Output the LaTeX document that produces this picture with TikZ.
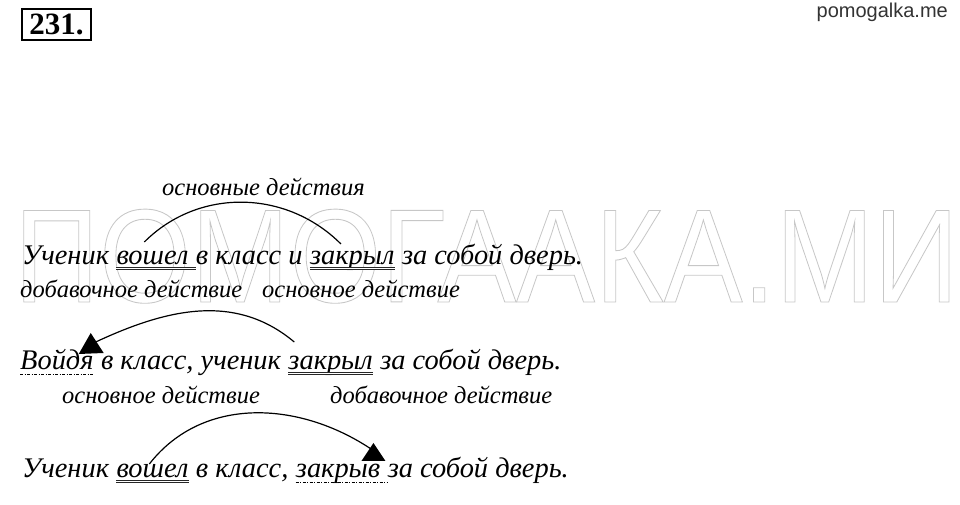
\documentclass[tikz,border=0pt]{standalone}
\usepackage{fontspec}
\setmainfont{Liberation Serif}
\setsansfont{Liberation Sans}
\usetikzlibrary{positioning}

\newcommand\gap{7.1pt}
\newcommand\outl[1]{\special{pdf:literal direct 1 Tr 0.9 w}#1\special{pdf:literal direct 0 Tr}}

\begin{document}
\begin{tikzpicture}[x=1pt,y=1pt,
  word/.style={inner sep=0pt, font=\fontsize{28.4}{32}\selectfont\itshape},
  lbl/.style={inner sep=0pt, anchor=base west, font=\fontsize{24.5}{28}\selectfont\itshape},
  dbl/.style={draw=black!85, double, double distance=1.4pt, line width=0.6pt},
  dashdotline/.style={line width=0.8pt, dash pattern=on 3pt off 1.5pt on 1pt off 1.5pt},
  arc/.style={line width=1.2pt},
  tip/.style={fill=black}]

\useasboundingbox (0,0) rectangle (960,505);

% watermark
\node[inner sep=0pt, anchor=base west, xscale=0.888, text=black!22,
  font=\fontsize{133}{140}\selectfont\sffamily] (wm) at (14,203) {\outl{ПОМОГААКА.МИ}};

% header
\node[draw, line width=1.3pt, minimum width=69pt, minimum height=31pt, inner sep=0pt,
  font=\fontsize{31}{34}\selectfont\bfseries] (num) at (56.5,480.5) {231.};
\node[anchor=base east, inner sep=0pt, text=black!80,
  font=\fontsize{20}{24}\selectfont\sffamily] (site) at (948,487) {pomogalka.me};

% sentence 1
\node[word, anchor=base west] (s1a) at (22,240) {Ученик};
\node[word, base right=\gap of s1a] (s1v) {вошел};
\node[word, base right=\gap of s1v] (s1m) {в класс и};
\node[word, base right=\gap of s1m] (s1z) {закрыл};
\node[word, base right=\gap of s1z] (s1e) {за собой дверь.};
\draw[dbl] ([yshift=-3.5pt]s1v.base west) -- ([yshift=-3.5pt,xshift=\gap]s1v.base east);
\draw[dbl] ([yshift=-3.5pt]s1z.base west) -- ([yshift=-3.5pt]s1z.base east);
\node[lbl] (l1) at (162,309) {основные действия};
\draw[arc] ([xshift=28pt,yshift=23pt]s1v.base west) to[out=45,in=135]
  ([xshift=31pt,yshift=21pt]s1z.base west);

% sentence 2
\node[lbl] (l2a) at (20,207) {добавочное действие};
\node[lbl] (l2b) at (262,207) {основное действие};
\node[word, anchor=base west] (s3v) at (20,135) {Войдя};
\node[word, base right=\gap of s3v] (s3m) {в класс, ученик};
\node[word, base right=\gap of s3m] (s3z) {закрыл};
\node[word, base right=\gap of s3z] (s3e) {за собой дверь.};
\draw[dashdotline] ([yshift=-4pt]s3v.base west) -- ([yshift=-4pt]s3v.base east);
\draw[dbl] ([yshift=-3.5pt]s3z.base west) -- ([yshift=-3.5pt]s3z.base east);
\coordinate (t2) at ([xshift=2pt,yshift=28pt]s3v.base east);
\draw[arc] ([xshift=6pt,yshift=28pt]s3z.base west) to[out=140,in=25] (t2);
\fill[tip] ([xshift=-3pt,yshift=37pt]s3v.base east) -- ++(-12,-21) -- ++(25,1) -- cycle;

% sentence 3
\node[lbl] (l3a) at (62,101) {основное действие};
\node[lbl] (l3b) at (330,101) {добавочное действие};
\node[word, anchor=base west] (s4a) at (22,27) {Ученик};
\node[word, base right=\gap of s4a] (s4v) {вошел};
\node[word, base right=\gap of s4v] (s4m) {в класс,};
\node[word, base right=\gap of s4m] (s4z) {закрыв};
\node[word, base right=\gap of s4z] (s4e) {за собой дверь.};
\draw[dbl] ([yshift=-3.5pt]s4v.base west) -- ([yshift=-3.5pt]s4v.base east);
\draw[dashdotline] ([yshift=-4pt]s4z.base west) -- ([yshift=-4pt,xshift=\gap]s4z.base east);
\coordinate (t3) at ([xshift=-5pt,yshift=26pt]s4z.base east);
\draw[arc] ([xshift=33pt,yshift=14pt]s4v.base west) to[out=52,in=145] (t3);
\fill[tip] ([xshift=-7pt,yshift=35pt]s4z.base east) -- ++(-12,-18) -- ++(24,0) -- cycle;
\end{tikzpicture}
\end{document}
